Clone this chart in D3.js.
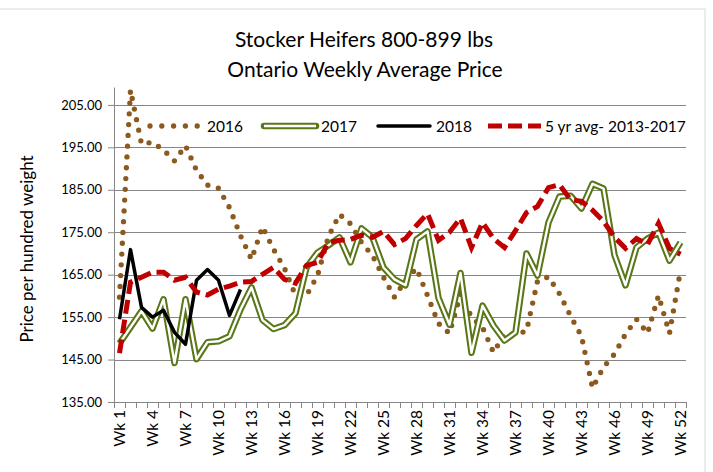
<!DOCTYPE html>
<html>
<head>
<meta charset="utf-8">
<title>Stocker Heifers</title>
<style>
  body { margin: 0; background: #fff; }
  svg text { font-family: Lato, "Open Sans", sans-serif; fill: #000; }
  .grid line { stroke: #868686; stroke-width: 1; }
  .axis path, .axis line { stroke: #868686; }
</style>
</head>
<body>
<svg width="713" height="472"></svg>
<script src="https://d3js.org/d3.v7.min.js"></script>
<script>
// week categories
var weeks = d3.range(1, 53);
var weekLabels = [1, 4, 7, 10, 13, 16, 19, 22, 25, 28, 31, 34, 37, 40, 43, 46, 49, 52];
var yTicks = [135, 145, 155, 165, 175, 185, 195, 205];

// series values
var y2016 = [159.7, 208.5, 195.8, 196.2, 194.4, 191.8, 195.4, 189.6, 186.1, 185.4, 180.8, 174.2,
             168.6, 176.3, 171.0, 166.5, 160.1, 160.1, 164.8, 174.0, 179.2, 177.0, 172.6, 169.5,
             164.4, 159.7, 163.7, 166.5, 160.1, 153.5, 151.2, 160.4, 155.0, 152.6, 146.7, 151.0,
             151.0, 151.7, 163.5, 164.5, 160.5, 155.3, 150.5, 138.3, 143.2, 146.3, 151.0, 154.5,
             151.2, 160.1, 151.2, 166.0];
var y2017 = [148.8, 152.6, 156.4, 152.3, 159.2, 144.2, 159.2, 145.1, 149.1, 149.3, 150.5, 156.8,
             162.0, 154.3, 152.2, 153.1, 155.9, 166.7, 170.2, 171.9, 173.8, 167.9, 175.9, 173.8,
             166.7, 163.9, 162.5, 173.3, 175.2, 159.5, 153.2, 165.4, 146.6, 157.7, 153.0, 149.5,
             151.4, 170.0, 164.8, 177.3, 183.4, 183.6, 180.6, 186.4, 185.3, 169.6, 162.5, 171.4,
             173.5, 174.9, 168.3, 172.6];
var y2018 = [154.5, 170.9, 157.3, 155.0, 156.6, 151.4, 148.6, 163.7, 166.2, 163.7, 155.4, 161.5];
var yAvg  = [146.5, 163.2, 164.4, 165.6, 165.6, 163.7, 164.4, 160.9, 160.2, 161.6, 162.3, 163.2,
             163.4, 165.1, 166.7, 163.9, 163.0, 167.2, 167.9, 172.6, 173.1, 173.3, 174.3, 173.8,
             175.2, 172.1, 173.5, 176.6, 179.4, 173.1, 175.0, 178.3, 171.4, 177.3, 173.5, 171.4,
             175.4, 179.6, 181.1, 185.5, 186.2, 182.7, 182.3, 180.2, 177.6, 173.8, 171.2, 173.5,
             172.1, 177.1, 171.2, 169.8];

var brown = "#8c5a1e", olive = "#5a7718", red = "#c00000";

var svg = d3.select("svg");

// outer chart frame
svg.append("rect")
    .attr("x", -1).attr("y", 9)
    .attr("width", 706).attr("height", 480)
    .attr("fill", "none").attr("stroke", "#d9d9d9");

var plotL = 114, plotR = 686, plotT = 87.5, plotB = 402;

var x = d3.scaleBand().domain(weeks).range([plotL, plotR]).padding(0);
var y = d3.scaleLinear().domain([135, 209.1]).range([plotB, plotT]);
var cx = function(w) { return x(w) + x.bandwidth() / 2; };

// titles
svg.append("text").attr("x", 364).attr("y", 47).attr("text-anchor", "middle")
    .style("font-size", "21px").text("Stocker Heifers 800-899 lbs");
svg.append("text").attr("x", 365).attr("y", 77).attr("text-anchor", "middle")
    .style("font-size", "21px").text("Ontario Weekly Average Price");

// gridlines
svg.append("g").attr("class", "grid")
  .selectAll("line")
  .data(yTicks.slice(1))
  .enter().append("line")
    .attr("x1", plotL).attr("x2", plotR)
    .attr("y1", function(d) { return Math.round(y(d)) + 0.5; })
    .attr("y2", function(d) { return Math.round(y(d)) + 0.5; });

// y axis
var yAxis = svg.append("g").attr("class", "axis")
    .attr("transform", "translate(" + plotL + ",0)")
    .call(d3.axisLeft(y).tickValues(yTicks).tickFormat(d3.format(".2f")).tickSize(6).tickSizeOuter(0));
yAxis.select(".domain").attr("d", "M0.5," + plotT + "V" + plotB);
yAxis.selectAll("text").style("font-size", "13px").attr("x", -12).style("font-family", "Lato");

svg.append("text")
    .attr("transform", "translate(33," + 249 + ") rotate(-90)")
    .attr("text-anchor", "middle")
    .style("font-size", "17px")
    .text("Price per hundred weight");

// x axis: baseline, category boundary ticks, rotated labels
var xg = svg.append("g").attr("class", "axis");
xg.append("line").attr("x1", plotL).attr("x2", plotR).attr("y1", plotB + 0.5).attr("y2", plotB + 0.5);
xg.selectAll(".tk")
  .data(weeks.concat([53]))
  .enter().append("line")
    .attr("class", "tk")
    .attr("x1", function(d) { return (d === 53 ? plotR : x(d)) + 0.5; })
    .attr("x2", function(d) { return (d === 53 ? plotR : x(d)) + 0.5; })
    .attr("y1", plotB).attr("y2", plotB + 6);
xg.selectAll(".lbl")
  .data(weekLabels)
  .enter().append("text")
    .attr("class", "lbl")
    .attr("transform", function(d) { return "translate(" + (cx(d) + 5.5) + "," + (plotB + 8) + ") rotate(-90)"; })
    .attr("text-anchor", "end")
    .style("font-size", "15.5px")
    .text(function(d) { return "Wk " + d; });

var line = d3.line()
    .x(function(d, i) { return cx(weeks[i]); })
    .y(function(d) { return y(d); });

var plot = svg.append("g");

// 2016 dotted
plot.append("path").datum(y2016)
    .attr("d", line).attr("fill", "none")
    .attr("stroke", brown).attr("stroke-width", 5.3)
    .attr("stroke-linecap", "round").attr("stroke-dasharray", "0,10.8");

// 2017 double line
plot.append("path").datum(y2017)
    .attr("d", line).attr("fill", "none")
    .attr("stroke", olive).attr("stroke-width", 6.5).attr("stroke-linejoin", "round");
plot.append("path").datum(y2017)
    .attr("d", line).attr("fill", "none")
    .attr("stroke", "#fff").attr("stroke-width", 2.4).attr("stroke-linejoin", "round");

// 2018
plot.append("path").datum(y2018)
    .attr("d", line).attr("fill", "none")
    .attr("stroke", "#000").attr("stroke-width", 3.5).attr("stroke-linejoin", "round");

// 5 yr avg dashed
plot.append("path").datum(yAvg)
    .attr("d", line).attr("fill", "none")
    .attr("stroke", red).attr("stroke-width", 5)
    .attr("stroke-dasharray", "14,6");

// legend
var ly = 126;
var legend = svg.append("g").style("font-size", "15.5px");
legend.append("line").attr("x1", 150).attr("x2", 197.5).attr("y1", ly).attr("y2", ly)
    .attr("stroke", brown).attr("stroke-width", 5.3).attr("stroke-linecap", "round")
    .attr("stroke-dasharray", "0,11.8");
legend.append("text").attr("x", 207).attr("y", ly + 5.5).text("2016");

legend.append("line").attr("x1", 264).attr("x2", 316).attr("y1", ly).attr("y2", ly)
    .attr("stroke", olive).attr("stroke-width", 6.5).attr("stroke-linecap", "round");
legend.append("line").attr("x1", 264).attr("x2", 316).attr("y1", ly).attr("y2", ly)
    .attr("stroke", "#fff").attr("stroke-width", 2.4);
legend.append("text").attr("x", 321).attr("y", ly + 5.5).text("2017");

legend.append("line").attr("x1", 378).attr("x2", 430).attr("y1", ly).attr("y2", ly)
    .attr("stroke", "#000").attr("stroke-width", 3.5).attr("stroke-linecap", "round");
legend.append("text").attr("x", 436).attr("y", ly + 5.5).text("2018");

legend.append("line").attr("x1", 488).attr("x2", 541).attr("y1", ly).attr("y2", ly)
    .attr("stroke", red).attr("stroke-width", 5).attr("stroke-dasharray", "14,6");
legend.append("text").attr("x", 545).attr("y", ly + 5.5).text("5 yr avg- 2013-2017");
</script>
</body>
</html>
